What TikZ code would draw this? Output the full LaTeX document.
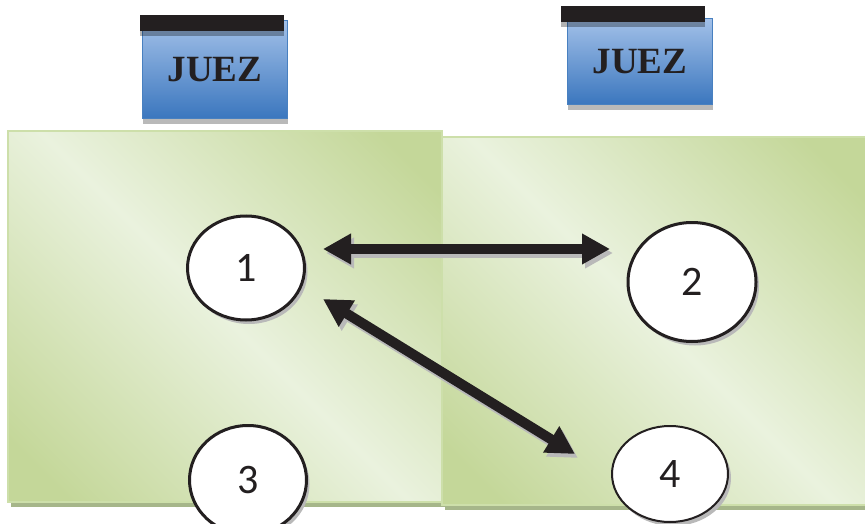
\documentclass[tikz,border=0pt]{standalone}
\usepackage{fontspec}
\setmainfont{Liberation Serif}
\newfontfamily\digitfont{Carlito}
\usetikzlibrary{arrows.meta,shapes.geometric}
\definecolor{jgreend}{RGB}{196,215,153}
\definecolor{jgreenl}{RGB}{234,242,222}
\definecolor{jgreenedge}{RGB}{205,223,170}
\definecolor{jgreenshadow}{RGB}{166,182,138}
\definecolor{jbluetop}{RGB}{162,192,232}
\definecolor{jbluebot}{RGB}{58,118,190}
\definecolor{jblueedge}{RGB}{72,128,192}
\definecolor{jbar}{RGB}{35,31,32}
\definecolor{jshadow}{RGB}{185,185,185}
\pgfdeclarehorizontalshading{panelshade}{100bp}{
  color(0bp)=(jgreend); color(20bp)=(jgreend); color(50bp)=(jgreenl);
  color(80bp)=(jgreend); color(100bp)=(jgreend)}
\tikzset{
  casepic/.style={
    x=1pt,y=-1pt
    ,inner sep=0pt
    ,outer sep=0pt
  }
  ,panel/.style={rectangle,anchor=north west
    ,draw=jgreenedge,line width=1.5pt
    ,shading=panelshade,shading angle=45
    ,preaction={fill=jgreenshadow,transform canvas={shift={(3pt,-5pt)}}}
  }
  ,judgebox/.style={rectangle
    ,minimum width=145pt
    ,draw=jblueedge,line width=1pt
    ,top color=jbluetop,bottom color=jbluebot
    ,preaction={fill=jshadow,transform canvas={shift={(0pt,-5pt)}}}
    ,font={\bfseries\fontsize{37}{40}\selectfont\color{jbar}}
  }
  ,judgebar/.style={rectangle
    ,minimum width=144pt,minimum height=16pt
    ,fill=jbar
    ,preaction={fill=black,opacity=.3,transform canvas={shift={(0pt,-5pt)}}}
  }
  ,party/.style={ellipse
    ,draw=jbar,line width=3pt,fill=white
    ,font={\digitfont\fontsize{42}{44}\selectfont\color{jbar}}
    ,preaction={fill=jshadow,transform canvas={shift={(3pt,-4pt)}}}
  }
  ,bigarrow/.style={
    draw=jbar,line width=10pt
    ,{Triangle[length=28pt,width=29pt]}-{Triangle[length=28pt,width=29pt]}
  }
  ,arrowshadow/.style={bigarrow,draw=jshadow
    ,transform canvas={shift={(3pt,-4pt)}}}
}

\begin{document}
\begin{tikzpicture}[casepic]
  \useasboundingbox (0,0) rectangle (865,524);
  % the two halves
  \node[panel,minimum width=434pt,minimum height=371pt] (panelL) at (8,131) {};
  \node[panel,minimum width=424pt,minimum height=368pt] (panelR) at (442,137) {};
  % judges
  \node[judgebox,minimum height=98pt] (judgeL) at (215,70) {JUEZ};
  \node[judgebar] (barL) at (212,23) {};
  \node[judgebox,minimum height=86pt] (judgeR) at (640,62) {JUEZ};
  \node[judgebar] (barR) at (633,14) {};
  % parties
  \node[party,minimum width=117pt,minimum height=104pt] (p1) at (246,268) {1};
  \node[party,minimum width=128pt,minimum height=119pt] (p2) at (692,282) {2};
  \node[party,minimum width=117pt,minimum height=109pt] (p3) at (248,480) {3};
  \node[party,line width=2pt,preaction={fill=none}
    ,minimum width=116pt,minimum height=96pt] (p4) at (670,474) {4};
  % links
  \coordinate (l12a) at (323,249);
  \coordinate (l12b) at (610,249);
  \coordinate (l14a) at (323,299);
  \coordinate (l14b) at (575,454);
  \draw[arrowshadow] (l12a) -- (l12b);
  \draw[arrowshadow] (l14a) -- (l14b);
  \draw[bigarrow] (l12a) -- (l12b);
  \draw[bigarrow] (l14a) -- (l14b);
\end{tikzpicture}
\end{document}
